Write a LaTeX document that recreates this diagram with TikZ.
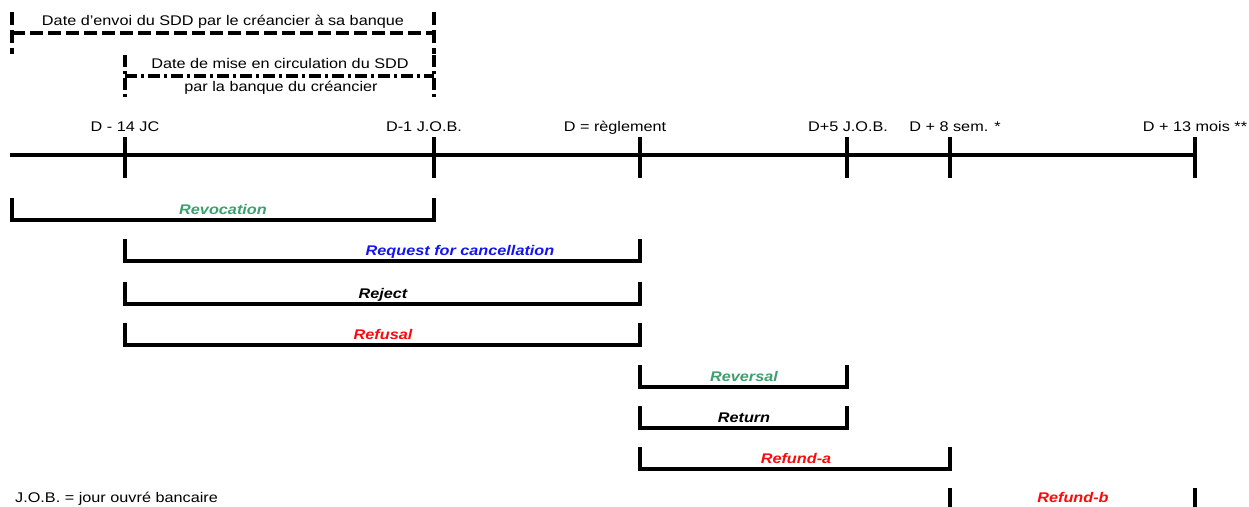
\documentclass[tikz,border=0pt]{standalone}
\usepackage{fontspec}
\setmainfont{Liberation Sans}[FakeStretch=1.16]
\usepackage{xcolor}
\usetikzlibrary{positioning}
\definecolor{revgreen}{RGB}{60,160,110}
\definecolor{reqblue}{RGB}{20,20,240}
\definecolor{refred}{RGB}{250,10,10}

\begin{document}
\begin{tikzpicture}[x=1pt,y=-1pt,
  axis/.style={line width=4.5pt},
  datetick/.style={line width=4.5pt},
  bracket/.style={line width=3.5pt,line join=miter},
  sendline/.style={line width=3.5pt,dash pattern=on 13pt off 5pt},
  circline/.style={line width=3.5pt,dash pattern=on 12pt off 4pt on 3pt off 4pt},
  date/.style={anchor=base,inner sep=0pt,font=\fontsize{14}{16}\selectfont},
  period/.style={anchor=base,inner sep=0pt,font=\fontsize{14}{16}\selectfont\bfseries\itshape}]
  \useasboundingbox (0,0) rectangle (1249,506);

  % time line
  \coordinate (start) at (10,155);
  \coordinate (end)   at (1197,155);
  \draw[axis] (start) -- (end);
  \coordinate (d14)  at (125,155);
  \coordinate (d1)   at (434,155);
  \coordinate (d0)   at (640,155);
  \coordinate (d5)   at (847,155);
  \coordinate (d8s)  at (950,155);
  \coordinate (d13m) at (1195,155);
  \draw[datetick] ([yshift=18pt]d14) -- ([yshift=-23pt]d14);
  \draw[datetick] ([yshift=18pt]d1) -- ([yshift=-23pt]d1);
  \draw[datetick] ([yshift=18pt]d0) -- ([yshift=-23pt]d0);
  \draw[datetick] ([yshift=18pt]d5) -- ([yshift=-23pt]d5);
  \draw[datetick] ([yshift=18pt]d8s) -- ([yshift=-23pt]d8s);
  \draw[datetick] ([yshift=18pt]d13m) -- ([yshift=-23pt]d13m);
  \node[date] (l14)  at (125,131)  {D - 14 JC};
  \node[date] (l1)   at (424,131)  {D-1 J.O.B.};
  \node[date] (l0)   at (615,131)  {D = règlement};
  \node[date] (l5)   at (848,131)  {D+5 J.O.B.};
  \node[date] (l8s)  at (955,131)  {D + 8 sem. *};
  \node[date] (l13m) at (1195,131) {D + 13 mois **};

  % sending and circulation dates
  \coordinate (sendL) at (12,33);
  \coordinate (sendR) at (434,33);
  \draw[sendline] ([yshift=21pt]sendL) -- ([yshift=-21pt]sendL);
  \draw[sendline] ([yshift=21pt]sendR) -- ([yshift=-21pt]sendR);
  \draw[sendline] (sendL) -- (sendR);
  \node[date] (send) at (223,25) {Date d'envoi du SDD par le créancier à sa banque};
  \coordinate (circL) at (125,76);
  \coordinate (circR) at (434,76);
  \draw[circline] ([yshift=21pt]circL) -- ([yshift=-21pt]circL);
  \draw[circline] ([yshift=21pt]circR) -- ([yshift=-21pt]circR);
  \draw[circline] (circL) -- (circR);
  \node[date] (circ)  at (280,68) {Date de mise en circulation du SDD};
  \node[date] (circb) at (281,91) {par la banque du créancier};

  % periods
  \coordinate (revL)  at (12,220);   \coordinate (revR)  at (434,220);
  \coordinate (reqL)  at (125,261);  \coordinate (reqR)  at (640,261);
  \coordinate (rejL)  at (125,304);  \coordinate (rejR)  at (640,304);
  \coordinate (refuL) at (125,345);  \coordinate (refuR) at (640,345);
  \coordinate (reveL) at (640,387);  \coordinate (reveR) at (847,387);
  \coordinate (retL)  at (640,428);  \coordinate (retR)  at (847,428);
  \coordinate (refaL) at (640,469);  \coordinate (refaR) at (950,469);
  \coordinate (refbL) at (950,513);  \coordinate (refbR) at (1195,513);
  \draw[bracket] ([yshift=22pt]revL) -- (revL) -- (revR) -- ([yshift=22pt]revR);
  \draw[bracket] ([yshift=22pt]reqL) -- (reqL) -- (reqR) -- ([yshift=22pt]reqR);
  \draw[bracket] ([yshift=22pt]rejL) -- (rejL) -- (rejR) -- ([yshift=22pt]rejR);
  \draw[bracket] ([yshift=22pt]refuL) -- (refuL) -- (refuR) -- ([yshift=22pt]refuR);
  \draw[bracket] ([yshift=22pt]reveL) -- (reveL) -- (reveR) -- ([yshift=22pt]reveR);
  \draw[bracket] ([yshift=22pt]retL) -- (retL) -- (retR) -- ([yshift=22pt]retR);
  \draw[bracket] ([yshift=22pt]refaL) -- (refaL) -- (refaR) -- ([yshift=22pt]refaR);
  \draw[bracket] ([yshift=25pt]refbL) -- (refbL) -- (refbR) -- ([yshift=25pt]refbR);
  \node[period,text=revgreen] (rev)  at (223,214) {Revocation};
  \node[period,text=reqblue]  (req)  at (460,255) {Request for cancellation};
  \node[period]               (rej)  at (383,298) {Reject};
  \node[period,text=refred]   (refu) at (383,339) {Refusal};
  \node[period,text=revgreen] (reve) at (744,381) {Reversal};
  \node[period]               (ret)  at (744,422) {Return};
  \node[period,text=refred]   (refa) at (796,463) {Refund-a};
  \node[period,text=refred]   (refb) at (1073,502) {Refund-b};

  \node[date,anchor=base west] (job) at (15,502) {J.O.B. = jour ouvré bancaire};
\end{tikzpicture}
\end{document}
